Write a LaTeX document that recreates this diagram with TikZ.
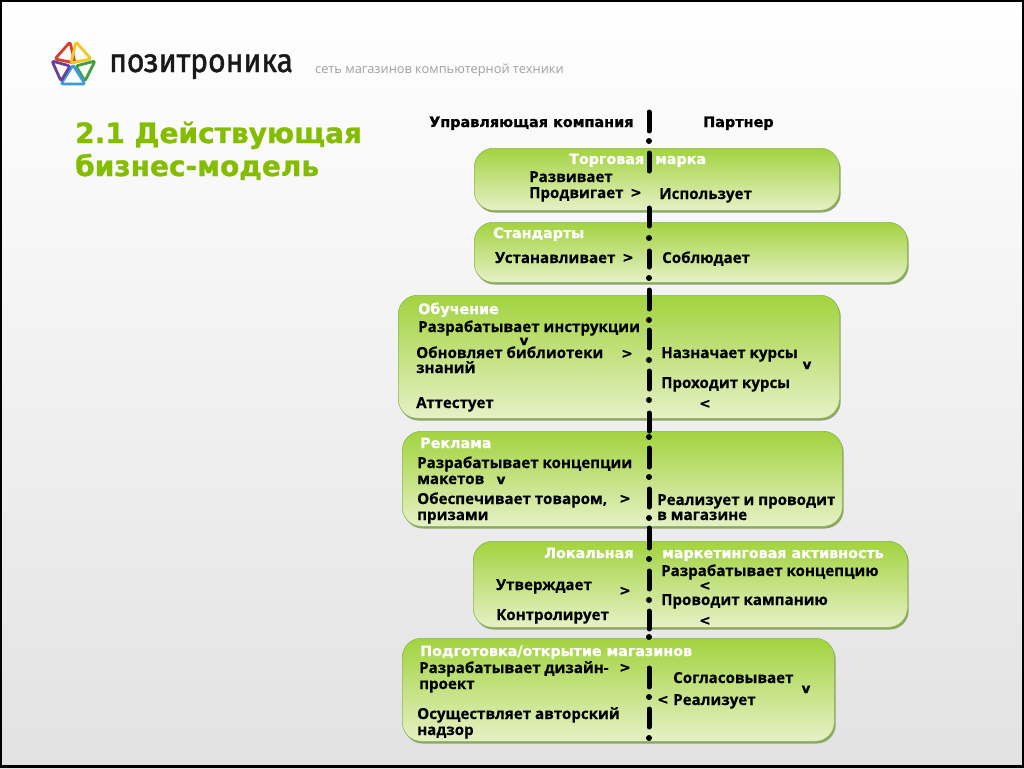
\documentclass[tikz,border=0pt]{standalone}
\usepackage{fontspec}
\setmainfont{DejaVu Sans}[BoldFeatures={FakeBold=1.0}]
\newfontfamily\bodyfont{Open Sans}[BoldFeatures={FakeBold=0.4}]
\newfontfamily\logofont{Fira Sans}[FakeStretch=0.91,FakeBold=1.4]
\usetikzlibrary{shadows}
\definecolor{titlegreen}{HTML}{84BD00}
\definecolor{boxtop}{HTML}{A2D33F}
\definecolor{boxmid}{HTML}{BBDD7C}
\definecolor{boxbot}{HTML}{E6F1C6}
\definecolor{boxedge}{HTML}{8AA765}
\definecolor{bgmid}{HTML}{F6F6F6}
\definecolor{bgbot}{HTML}{E2E2E2}
\definecolor{greytxt}{HTML}{A0A0A0}
\definecolor{logored}{HTML}{D8402E}
\definecolor{logoyel}{HTML}{F2C81E}
\definecolor{logogrn}{HTML}{3FA03C}
\definecolor{logoblu}{HTML}{3C9ADC}
\definecolor{logopur}{HTML}{6A3FA0}
\tikzset{
  x=1pt,y=-1pt,
  lab/.style={anchor=base west,inner sep=0pt,font=\fontsize{15.1}{16}\selectfont\bfseries\bodyfont,text=black},
  head/.style={anchor=base west,inner sep=0pt,font=\fontsize{14.3}{16}\selectfont\bfseries,text=white},
  sign/.style={anchor=base,inner sep=0pt,font=\fontsize{13.5}{14}\selectfont\bfseries,text=black},
  col/.style={anchor=base west,inner sep=0pt,font=\fontsize{14.4}{16}\selectfont\bfseries,text=black},
  title/.style={anchor=base west,inner sep=0pt,font=\fontsize{28}{32}\selectfont\bfseries,text=titlegreen},
  gbox/.style={anchor=north west,inner sep=0pt,draw=boxedge!70!boxtop,line width=.6pt,rounded corners=19pt,
    top color=boxtop,middle color=boxmid,bottom color=boxbot,
    drop shadow={shadow xshift=1.4pt,shadow yshift=-2.2pt,opacity=1,fill=boxedge}},
  axis/.style={line width=5pt,line cap=round,black},
  tri/.style={line width=2.8pt,line join=round,rounded corners=2pt},
}
\begin{document}
\begin{tikzpicture}
\useasboundingbox (0,0) rectangle (1024,768);
\shade[top color=white,middle color=bgmid,bottom color=bgbot] (0,0) rectangle (1024,768);
\fill[black] (0,0) rectangle (1024,2);
\fill[black] (0,0) rectangle (2,768);
\fill[black] (1022,0) rectangle (1024,768);
\fill[black] (0,765) rectangle (1024,768);
% logo
\draw[tri,logored] (70,42) -- (55,59) -- (75,63) -- cycle;
\draw[tri,logoyel] (76,42) -- (71,63) -- (91,59) -- cycle;
\draw[tri,logogrn] (95,61) -- (76,66) -- (85,81) -- cycle;
\draw[tri,logoblu] (73,65) -- (61,84) -- (85,84) -- cycle;
\draw[tri,logopur] (52,61) -- (70,66) -- (61,81) -- cycle;
\node[anchor=base west,inner sep=0pt,font=\fontsize{33}{36}\selectfont\logofont,text=black!90] (logo) at (109,72) {позитроника};
\node[anchor=base west,inner sep=0pt,font=\fontsize{12.8}{14}\selectfont\bodyfont,text=greytxt] (tag) at (315,73) {сеть магазинов компьютерной техники};
\node[title] (t1) at (75,143) {2.1 Действующая};
\node[title] (t2) at (75,176) {бизнес-модель};
% boxes
\node[gbox,minimum width=365pt,minimum height=62pt] (b1) at (474,148) {};
\node[gbox,minimum width=433pt,minimum height=60pt] (b2) at (474,222) {};
\node[gbox,minimum width=441pt,minimum height=123pt] (b3) at (398,295) {};
\node[gbox,minimum width=440pt,minimum height=95pt] (b4) at (402,431) {};
\node[gbox,minimum width=434pt,minimum height=86pt] (b5) at (473,541) {};
\node[gbox,minimum width=432pt,minimum height=103pt] (b6) at (402,638) {};
% axis
\foreach \a/\b in {110/133,151/173,206/228,249/269,288/311,328/350,369/391,411/433,446/469,487/509,526/550,569/591,609/631,666/689,707/729}
  \draw[axis] (649,\a+2) -- (649,\b-2);
\foreach \a in {141,238,278,320,360,400,437,477,518,559,600,637,697,738}
  \fill[black] (649,\a) circle (3pt);
% column heads
\node[col] (h1) at (429,127) {Управляющая компания};
\node[col] (h2) at (703,127) {Партнер};
% box 1
\node[head] (a1) at (569,164) {Торговая};
\node[head] (a2) at (655,164) {марка};
\node[lab] (a3) at (529,182) {Развивает};
\node[lab] (a4) at (529,198) {Продвигает};
\node[sign] (a5) at (636,197) {>};
\node[lab] (a6) at (659,199) {Использует};
% box 2
\node[head] (c1) at (493,238) {Стандарты};
\node[lab] (c2) at (495,263) {Устанавливает};
\node[sign] (c3) at (628,262) {>};
\node[lab] (c4) at (662,263) {Соблюдает};
% box 3
\node[head] (d1) at (418,314) {Обучение};
\node[lab] (d2) at (418,332) {Разрабатывает инструкции};
\node[sign] (d3) at (524,345) {v};
\node[lab] (d4) at (416,358) {Обновляет библиотеки};
\node[lab] (d5) at (416,373) {знаний};
\node[sign] (d6) at (627,358) {>};
\node[lab] (d7) at (661,358) {Назначает курсы};
\node[sign] (d8) at (807,369) {v};
\node[lab] (d9) at (661,388) {Проходит курсы};
\node[lab] (d10) at (416,408) {Аттестует};
\node[sign] (d11) at (705,408) {<};
% box 4
\node[head] (e1) at (420,448) {Реклама};
\node[lab] (e2) at (417,468) {Разрабатывает концепции};
\node[lab] (e3) at (417,484) {макетов};
\node[sign] (e4) at (501,484) {v};
\node[lab] (e5) at (417,504) {Обеспечивает товаром,};
\node[lab] (e6) at (417,520) {призами};
\node[sign] (e7) at (625,503) {>};
\node[lab] (e8) at (657,505) {Реализует и проводит};
\node[lab] (e9) at (657,520) {в магазине};
% box 5
\node[head] (f1) at (544,558) {Локальная};
\node[head] (f2) at (662,558) {маркетинговая активность};
\node[lab] (f3) at (661,576) {Разрабатывает концепцию};
\node[sign] (f4) at (705,590) {<};
\node[lab] (f5) at (661,605) {Проводит кампанию};
\node[sign] (f6) at (705,625) {<};
\node[lab] (f7) at (496,590) {Утверждает};
\node[sign] (f8) at (625,595) {>};
\node[lab] (f9) at (496,620) {Контролирует};
% box 6
\node[head] (g1) at (420,656) {Подготовка/открытие магазинов};
\node[lab] (g2) at (419,673) {Разрабатывает дизайн-};
\node[lab] (g3) at (419,689) {проект};
\node[sign] (g4) at (625,672) {>};
\node[lab] (g5) at (673,683) {Согласовывает};
\node[sign] (g6) at (806,693) {v};
\node[sign] (g7) at (663,704) {<};
\node[lab] (g8) at (673,705) {Реализует};
\node[lab] (g9) at (417,719) {Осуществляет авторский};
\node[lab] (g10) at (417,735) {надзор};
\end{tikzpicture}
\end{document}
